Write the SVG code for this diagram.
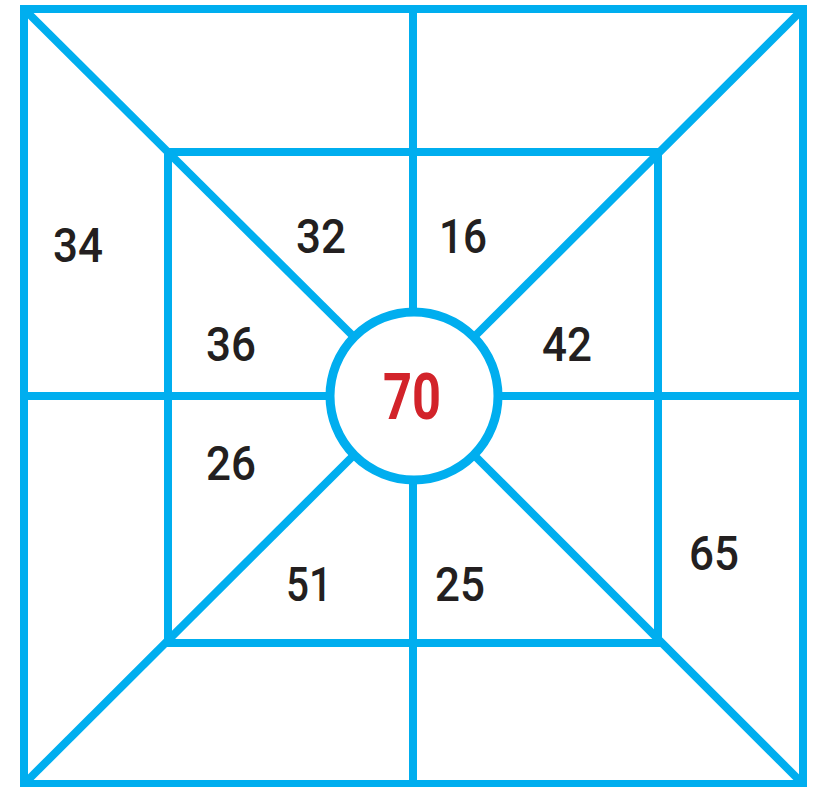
<svg xmlns="http://www.w3.org/2000/svg" width="813" height="787" viewBox="0 0 813 787">
<style>
.ln{stroke:#00aeef;stroke-width:8;fill:none}
.n{font-family:Roboto,"Liberation Sans",sans-serif;font-size:48px;font-weight:500;fill:#231f20;text-anchor:middle}
.c{font-family:Roboto,"Liberation Sans",sans-serif;font-size:64px;font-weight:700;fill:#d2232a;text-anchor:middle}
</style>
<rect width="813" height="787" fill="#fff"/>
<g id="connectors">
<rect class="ln" x="24" y="9" width="779" height="775"/>
<rect class="ln" x="168" y="152" width="490" height="491"/>
<line class="ln" x1="413" y1="9" x2="413" y2="312"/>
<line class="ln" x1="413" y1="480" x2="413" y2="784"/>
<line class="ln" x1="24" y1="396" x2="330" y2="396"/>
<line class="ln" x1="498" y1="396" x2="803" y2="396"/>
<line class="ln" x1="24" y1="9" x2="354" y2="337"/>
<line class="ln" x1="803" y1="9" x2="474" y2="337"/>
<line class="ln" x1="24" y1="784" x2="354" y2="455"/>
<line class="ln" x1="803" y1="784" x2="474" y2="455"/>
</g>
<g id="center">
<circle cx="414" cy="396" r="84" fill="#fff" stroke="#00aeef" stroke-width="9"/>
<text class="c" x="412" y="419" textLength="58" lengthAdjust="spacingAndGlyphs">70</text>
</g>
<g id="n34"><text class="n" x="78" y="262" textLength="50" lengthAdjust="spacingAndGlyphs">34</text></g>
<g id="n32"><text class="n" x="321" y="253" textLength="50" lengthAdjust="spacingAndGlyphs">32</text></g>
<g id="n16"><text class="n" x="463" y="253" textLength="48" lengthAdjust="spacingAndGlyphs">16</text></g>
<g id="n36"><text class="n" x="231" y="361" textLength="50" lengthAdjust="spacingAndGlyphs">36</text></g>
<g id="n42"><text class="n" x="567" y="361" textLength="50" lengthAdjust="spacingAndGlyphs">42</text></g>
<g id="n26"><text class="n" x="231" y="480" textLength="50" lengthAdjust="spacingAndGlyphs">26</text></g>
<g id="n51"><text class="n" x="309" y="601" textLength="46" lengthAdjust="spacingAndGlyphs">51</text></g>
<g id="n25"><text class="n" x="460" y="601" textLength="50" lengthAdjust="spacingAndGlyphs">25</text></g>
<g id="n65"><text class="n" x="714" y="570" textLength="50" lengthAdjust="spacingAndGlyphs">65</text></g>
</svg>
